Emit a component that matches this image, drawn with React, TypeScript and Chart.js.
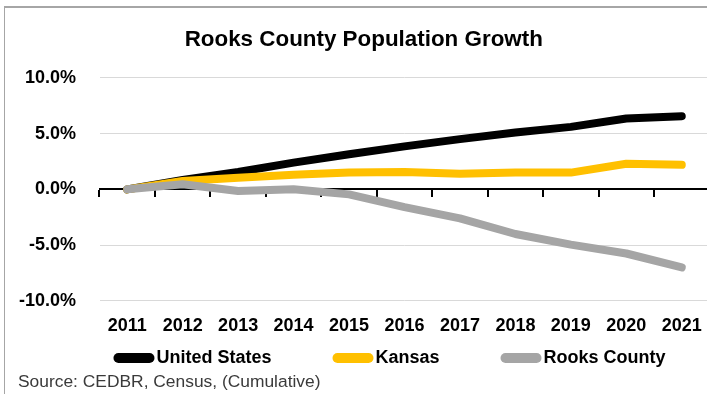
import React, { useEffect, useRef } from "react";
import { Chart, registerables } from "chart.js";

Chart.register(...registerables);

const FONT = "'Liberation Sans', Arial, sans-serif";

const chartTitle = "Rooks County Population Growth";
const sourceNote = "Source: CEDBR, Census, (Cumulative)";
const years = ["2011", "2012", "2013", "2014", "2015", "2016", "2017", "2018", "2019", "2020", "2021"];
const seriesNames = ["United States", "Kansas", "Rooks County"];
const seriesColors = ["#000000", "#FFC000", "#A5A5A5"];
const usGrowth = [0, 0.85, 1.55, 2.4, 3.15, 3.85, 4.5, 5.1, 5.6, 6.35, 6.55];
const kansasGrowth = [0, 0.75, 1.05, 1.3, 1.5, 1.55, 1.4, 1.5, 1.5, 2.3, 2.2];
const rooksGrowth = [0, 0.45, -0.15, 0.0, -0.45, -1.6, -2.6, -4.0, -4.95, -5.75, -7.0];
const yTicks = [-10, -5, 0, 5, 10];

const excelLegend = {
  id: "excelLegend",
  afterDraw(chart: any, _args: any, opts: any) {
    const ctx = chart.ctx;
    const ds = chart.data.datasets;
    ctx.save();
    ctx.font = `bold ${opts.fontSize}px ${FONT}`;
    const widths = ds.map(
      (d: any) => opts.symbolWidth + opts.symbolGap + ctx.measureText(d.label).width
    );
    const total =
      widths.reduce((a: number, b: number) => a + b, 0) + opts.itemGap * (ds.length - 1);
    let x = opts.centerX - total / 2;
    const y = opts.y;
    ds.forEach((d: any, i: number) => {
      ctx.strokeStyle = d.borderColor;
      ctx.lineWidth = opts.symbolHeight;
      ctx.lineCap = "round";
      ctx.beginPath();
      ctx.moveTo(x + opts.symbolHeight / 2, y);
      ctx.lineTo(x + opts.symbolWidth - opts.symbolHeight / 2, y);
      ctx.stroke();
      ctx.fillStyle = "#000";
      ctx.textBaseline = "middle";
      ctx.textAlign = "left";
      ctx.fillText(d.label, x + opts.symbolWidth + opts.symbolGap, y);
      x += widths[i] + opts.itemGap;
    });
    ctx.restore();
  },
};

export default function App() {
  const ref = useRef<HTMLCanvasElement>(null);

  useEffect(() => {
    const seriesData = [usGrowth, kansasGrowth, rooksGrowth];
    const tickFont = { family: FONT, size: 18, weight: "bold" as const };
    const chart = new Chart(ref.current!, {
      type: "line",
      data: {
        labels: years,
        datasets: seriesNames.map((name, i) => ({
          label: name,
          data: seriesData[i],
          borderColor: seriesColors[i],
          backgroundColor: seriesColors[i],
          borderWidth: 8,
          pointRadius: 0,
          pointHoverRadius: 0,
          borderCapStyle: "round" as const,
          borderJoinStyle: "round" as const,
          tension: 0,
          order: 3 - i,
          xAxisID: "x",
          yAxisID: "y",
        })),
      },
      options: {
        responsive: false,
        animation: false,
        events: [],
        layout: { padding: { left: 13, right: 55.5, top: 0, bottom: 0 } },
        plugins: {
          legend: { display: false },
          tooltip: { enabled: false },
          title: {
            display: true,
            text: chartTitle,
            color: "#000",
            font: { family: FONT, size: 22.4, weight: "bold" },
            padding: { top: 18.3, bottom: 24.6 },
          },
          subtitle: {
            display: true,
            position: "bottom",
            align: "start",
            text: sourceNote,
            color: "#3a3a3a",
            font: { family: FONT, size: 17.4, weight: "normal" },
            padding: { top: 29.6, bottom: 0 },
          },
          excelLegend: {
            fontSize: 18,
            symbolWidth: 41,
            symbolHeight: 10,
            symbolGap: 2,
            itemGap: 61,
            centerX: 384.5,
            y: 350,
          },
        } as any,
        scales: {
          x: {
            type: "category",
            offset: true,
            grid: { display: false },
            border: { display: false },
            ticks: {
              font: tickFont,
              color: "#000",
              padding: 6,
              maxRotation: 0,
              autoSkip: false,
            },
          },
          x2: {
            type: "category",
            axis: "x",
            labels: years,
            position: { y: 0 },
            offset: true,
            grid: {
              display: true,
              drawOnChartArea: false,
              drawTicks: true,
              tickLength: 7,
              color: "#000",
              lineWidth: 2,
              offset: true,
            },
            border: { display: true, color: "#000", width: 2 },
            ticks: { display: false },
          } as any,
          y: {
            type: "linear",
            min: -10,
            max: 10,
            afterBuildTicks: (s: any) => {
              s.ticks = yTicks.map((v) => ({ value: v }));
            },
            afterFit: (s: any) => {
              s.width = 81.5;
            },
            ticks: {
              font: tickFont,
              color: "#000",
              padding: 23.5,
              callback: (v: any) => Number(v).toFixed(1) + "%",
            },
            grid: {
              drawTicks: false,
              lineWidth: 1,
              color: (c: any) => (c.tick && c.tick.value === 0 ? "rgba(0,0,0,0)" : "#d9d9d9"),
            },
            border: { display: false },
          },
        },
      },
      plugins: [excelLegend],
    });
    return () => chart.destroy();
  }, []);

  return (
    <div
      style={{
        position: "fixed",
        left: 0,
        top: 0,
        width: 707,
        height: 394,
        overflow: "hidden",
        background: "#fff",
      }}
    >
      <div
        style={{
          position: "absolute",
          left: 4,
          top: 6,
          width: 800,
          height: 500,
          borderLeft: "1px solid #a6a6a6",
          borderTop: "2px solid #a6a6a6",
        }}
      />
      <canvas
        ref={ref}
        width={760}
        height={385}
        style={{ position: "absolute", left: 5, top: 8, width: 760, height: 385 }}
      />
    </div>
  );
}
